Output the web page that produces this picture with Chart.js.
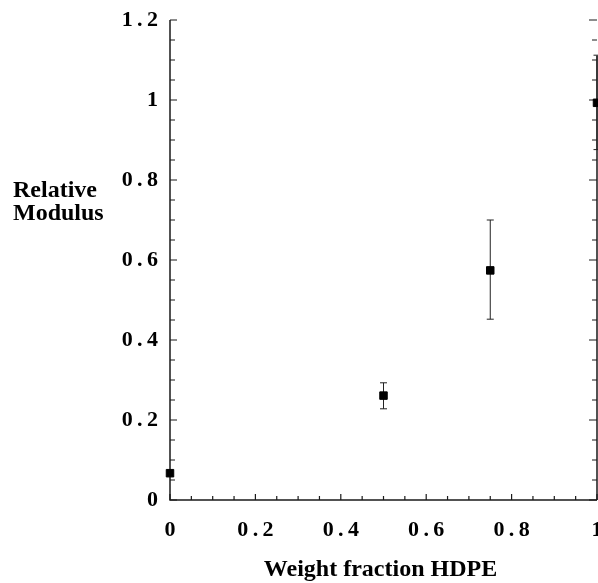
<!DOCTYPE html>
<html><head><meta charset="utf-8">
<script src="https://cdn.jsdelivr.net/npm/chart.js@4.4.0/dist/chart.umd.min.js"></script>
<style>html,body{margin:0;padding:0;background:#fff;overflow:hidden}</style>
</head><body>
<canvas id="c" width="598" height="583"></canvas>
<script>
// ---- data ----
const weightFraction = [0, 0.5, 0.75, 1.0];
const relativeModulus = [0.067, 0.261, 0.574, 0.993];
const errLow = [0.067, 0.228, 0.452, 0.876];
const errHigh = [0.067, 0.293, 0.700, 1.112];
const xTickLabels = ['0', '0.2', '0.4', '0.6', '0.8', '1'];
const yTickLabels = ['0', '0.2', '0.4', '0.6', '0.8', '1', '1.2'];
const xTitle = 'Weight fraction HDPE';
const yTitleLines = ['Relative', 'Modulus'];

const SERIF = '"Liberation Serif", "Times New Roman", serif';
function isMajor(v) { return Math.abs(v / 0.2 - Math.round(v / 0.2)) < 1e-6; }
function labelFor(list, v) {
  const l = list.find(s => Math.abs(parseFloat(s) - v) < 1e-6);
  return l === undefined ? '' : l.split('').join('\u2009');
}

const axesPlugin = {
  id: 'axesPlugin',
  beforeDatasetsDraw(chart) {
    const ctx = chart.ctx, ca = chart.chartArea;
    const xs = chart.scales.x, ys = chart.scales.y;
    ctx.save();
    ctx.strokeStyle = '#1a1a1a';
    ctx.lineWidth = 1.5;
    ctx.beginPath();
    ctx.moveTo(ca.left, ca.top); ctx.lineTo(ca.left, ca.bottom); ctx.lineTo(ca.right, ca.bottom);
    ctx.moveTo(ca.right, ca.top + 36); ctx.lineTo(ca.right, ca.bottom);
    ctx.stroke();
    ctx.lineWidth = 1.2;
    ctx.beginPath();
    ys.ticks.forEach(t => {
      const p = ys.getPixelForValue(t.value);
      const m = isMajor(t.value);
      ctx.moveTo(ca.left, p); ctx.lineTo(ca.left + (m ? 7 : 5), p);
      ctx.moveTo(ca.right, p); ctx.lineTo(ca.right - (m ? 8 : 5), p);
    });
    xs.ticks.forEach(t => {
      const p = xs.getPixelForValue(t.value);
      const m = isMajor(t.value);
      ctx.moveTo(p, ca.bottom); ctx.lineTo(p, ca.bottom - (m ? 6 : 4));
    });
    ctx.stroke();
    // error bars
    ctx.strokeStyle = '#222';
    ctx.lineWidth = 1;
    ctx.beginPath();
    weightFraction.forEach((xv, i) => {
      if (errHigh[i] - errLow[i] < 1e-9) return;
      const px = xs.getPixelForValue(xv);
      const lo = ys.getPixelForValue(errLow[i]);
      const hi = ys.getPixelForValue(errHigh[i]);
      ctx.moveTo(px, lo); ctx.lineTo(px, hi);
      ctx.moveTo(px - 3.5, lo); ctx.lineTo(px + 3.5, lo);
      ctx.moveTo(px - 3.5, hi); ctx.lineTo(px + 3.5, hi);
    });
    ctx.stroke();
    // y title (horizontal, two lines)
    ctx.fillStyle = '#000';
    ctx.font = 'bold 24px ' + SERIF;
    ctx.textAlign = 'left';
    ctx.textBaseline = 'alphabetic';
    ctx.fillText(yTitleLines[0], 13, 197);
    ctx.fillText(yTitleLines[1], 13, 220);
    ctx.restore();
  }
};

new Chart(document.getElementById('c'), {
  type: 'scatter',
  data: {
    datasets: [{
      data: weightFraction.map((x, i) => ({ x: x, y: relativeModulus[i] })),
      pointStyle: 'rect',
      pointRadius: 5.3,
      backgroundColor: '#000',
      borderColor: '#000',
      borderWidth: 1,
      clip: false
    }]
  },
  options: {
    responsive: false,
    animation: false,
    devicePixelRatio: 1,
    layout: { autoPadding: false, padding: { left: 0, right: 1, top: 20, bottom: 0 } },
    plugins: { legend: { display: false }, tooltip: { enabled: false } },
    scales: {
      x: {
        type: 'linear', position: 'bottom', min: 0, max: 1,
        grid: { display: false }, border: { display: false },
        ticks: {
          stepSize: 0.05, autoSkip: false, maxRotation: 0, padding: 9,
          color: '#000', font: { family: SERIF, size: 22, weight: 'bold' },
          callback: v => isMajor(v) ? labelFor(xTickLabels, v) : ''
        },
        title: {
          display: true, text: xTitle + '\u00a0', color: '#000',
          font: { family: SERIF, size: 24, weight: 'bold', lineHeight: 1 },
          padding: { top: 0, bottom: 1 }
        },
        afterFit: s => { s.height = 83; s.paddingLeft = 0; s.paddingRight = 0; }
      },
      y: {
        type: 'linear', position: 'left', min: 0, max: 1.2,
        grid: { display: false }, border: { display: false },
        ticks: {
          stepSize: 0.05, autoSkip: false, padding: 4,
          color: '#000', font: { family: SERIF, size: 22, weight: 'bold' },
          callback: v => isMajor(v) ? labelFor(yTickLabels, v) : ''
        },
        afterFit: s => { s.width = 170; s.paddingTop = 0; s.paddingBottom = 0; }
      }
    }
  },
  plugins: [axesPlugin]
});
</script>
</body></html>
